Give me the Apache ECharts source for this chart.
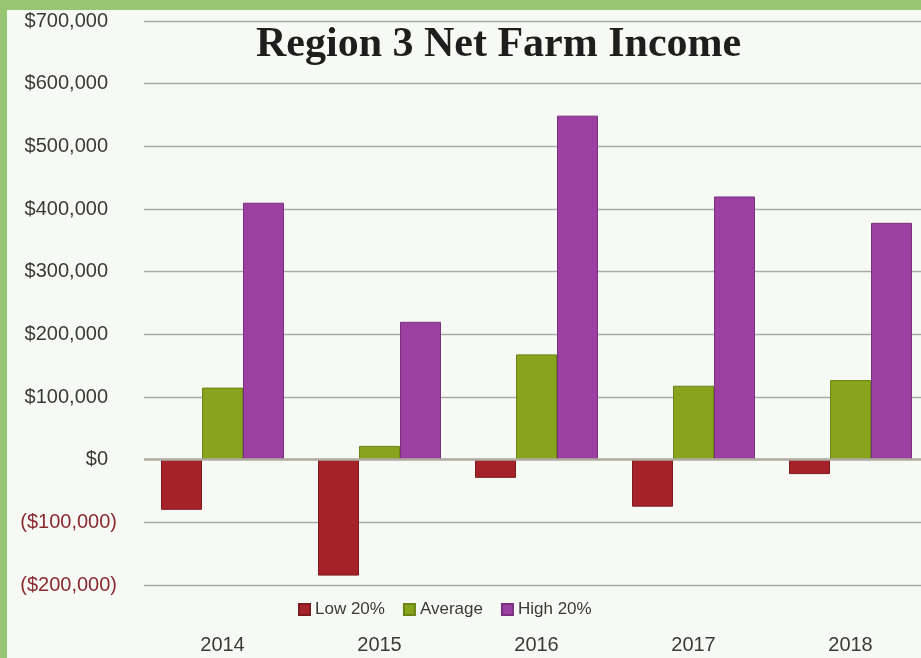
<!DOCTYPE html>
<html>
<head>
<meta charset="utf-8">
<script src="https://cdn.jsdelivr.net/npm/echarts@6/dist/echarts.min.js"></script>
<style>
html,body{margin:0;padding:0;background:#98c571;}
#chart{width:921px;height:658px;}
</style>
</head>
<body>
<div id="chart"></div>
<script>
var categories = ['2014', '2015', '2016', '2017', '2018'];
var seriesNames = ['Low 20%', 'Average', 'High 20%'];
var low20 = [-80000, -185000, -29000, -75000, -23000];
var average = [115000, 22000, 168000, 118000, 127000];
var high20 = [410000, 220000, 549000, 420000, 378000];
var yMin = -200000, yMax = 700000, yStep = 100000;

function fmtMoney(v) {
  var s = '$' + Math.abs(v).toLocaleString('en-US');
  if (v < 0) return '{n|(' + s + ')}';
  return '{p|' + s + '}';
}

var chart = echarts.init(document.getElementById('chart'), null, {renderer: 'canvas'});
var colors = ['#a52328', '#87a41c', '#9b40a0'];
var borders = ['#7c1a1f', '#6a8415', '#7a2f80'];

chart.setOption({
  backgroundColor: '#98c571',
  animation: false,
  graphic: [{
    type: 'rect', z: -100, silent: true,
    shape: {x: 7, y: 10, width: 914, height: 648},
    style: {fill: '#f7faf4'}
  }],
  title: {
    text: 'Region 3 Net Farm Income',
    left: 251, top: 19,
    textStyle: {fontFamily: 'Liberation Serif', fontWeight: 'bold', fontSize: 42, color: '#1e1e1e'}
  },
  legend: {
    data: seriesNames,
    left: 293, top: 596,
    icon: 'rect', itemWidth: 11, itemHeight: 11, itemGap: 18,
    textStyle: {fontFamily: 'Liberation Sans', fontSize: 17, color: '#3a3a3a'}
  },
  grid: {left: 144, width: 785, top: 21, bottom: 73, containLabel: false, outerBoundsMode: 'none'},
  xAxis: {
    type: 'category', data: categories,
    axisLine: {show: false, onZero: false},
    axisTick: {show: false},
    axisLabel: {margin: 50, fontFamily: 'Liberation Sans', fontSize: 20, color: '#3a3a3a'}
  },
  yAxis: {
    type: 'value', min: yMin, max: yMax, interval: yStep,
    axisLine: {show: false}, axisTick: {show: false},
    splitLine: {lineStyle: {color: '#ababab', width: 1.3}},
    axisLabel: {
      margin: 27,
      formatter: fmtMoney,
      rich: {
        p: {fontFamily: 'Liberation Sans', fontSize: 20, color: '#3a3a3a', padding: [0, 9, 0, 0]},
        n: {fontFamily: 'Liberation Sans', fontSize: 20, color: '#8a2a30'}
      }
    }
  },
  series: [
    {name: seriesNames[0], type: 'bar', data: low20, barWidth: 41, barGap: '0%',
     itemStyle: {color: colors[0], borderColor: borders[0], borderWidth: 1},
     markLine: {silent: true, symbol: 'none', label: {show: false},
       lineStyle: {color: '#b0ada2', width: 2.5, type: 'solid'}, data: [{yAxis: 0}]}},
    {name: seriesNames[1], type: 'bar', data: average, barWidth: 41, barGap: '0%',
     itemStyle: {color: colors[1], borderColor: borders[1], borderWidth: 1}},
    {name: seriesNames[2], type: 'bar', data: high20, barWidth: 41, barGap: '0%',
     itemStyle: {color: colors[2], borderColor: borders[2], borderWidth: 1}}
  ]
});
</script>
</body>
</html>
